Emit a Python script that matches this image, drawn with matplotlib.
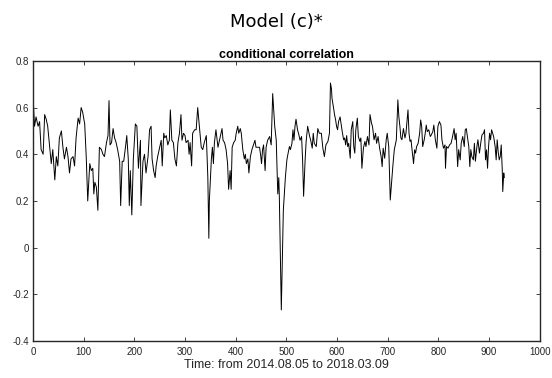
import numpy as np
import matplotlib
matplotlib.use("Agg")
import matplotlib.pyplot as plt

# day index and conditional correlation estimate
day = [0, 3, 6, 10, 13, 16, 20, 23, 26, 29, 33, 36, 39, 43, 46, 49, 52, 56, 59, 62,
       66, 69, 72, 75, 79, 82, 85, 89, 92, 95, 98, 102, 105, 108, 112, 115, 118, 120,
       122, 125, 128, 131, 135, 138, 141, 145, 148, 150, 152, 155, 158, 161, 164, 167,
       171, 173, 176, 179, 183, 185, 188, 190, 192, 195, 198, 202, 205, 208, 212, 213,
       217, 220, 223, 227, 230, 233, 235, 238, 241, 243, 246, 250, 253, 255, 258, 260,
       263, 266, 269, 271, 274, 277, 280, 283, 286, 289, 292, 294, 297, 300, 302, 306,
       308, 310, 313, 315, 319, 322, 325, 329, 332, 335, 338, 342, 345, 347, 348, 352,
       354, 356, 358, 361, 365, 368, 370, 373, 375, 378, 381, 384, 386, 389, 391, 393,
       396, 399, 401, 404, 406, 409, 411, 414, 417, 419, 421, 424, 426, 429, 432, 435,
       438, 440, 444, 447, 449, 451, 453, 455, 458, 460, 463, 467, 470, 473, 475, 477,
       480, 483, 485, 486, 490, 492, 494, 498, 501, 503, 506, 508, 511, 513, 515, 517,
       519, 522, 525, 527, 530, 532, 534, 537, 539, 542, 546, 548, 551, 553, 555, 559,
       562, 565, 569, 572, 575, 578, 582, 585, 587, 589, 590, 593, 595, 597, 599, 601,
       603, 606, 608, 610, 613, 615, 617, 619, 621, 623, 626, 628, 631, 633, 635, 637,
       640, 642, 645, 647, 649, 652, 655, 657, 660, 663, 665, 668, 670, 673, 676, 678,
       681, 684, 687, 689, 691, 694, 697, 699, 702, 705, 707, 710, 713, 717, 718, 720,
       722, 724, 726, 728, 731, 734, 736, 740, 742, 744, 746, 748, 751, 753, 755, 757,
       760, 763, 765, 767, 769, 772, 774, 776, 778, 781, 784, 786, 789, 791, 794, 797,
       799, 802, 805, 807, 810, 813, 814, 816, 819, 822, 825, 828, 831, 833, 835, 838,
       840, 843, 845, 848, 851, 853, 855, 858, 860, 862, 864, 866, 869, 871, 873, 876,
       878, 881, 884, 886, 889, 891, 893, 895, 897, 899, 901, 903, 905, 907, 909, 912,
       914, 916, 918, 920, 922, 924, 926, 927, 929, 930]
corr = [0.65, 0.52, 0.56, 0.52, 0.54, 0.42, 0.40, 0.57, 0.55, 0.52, 0.43, 0.36, 0.42,
        0.29, 0.39, 0.35, 0.47, 0.50, 0.43, 0.38, 0.43, 0.39, 0.32, 0.38, 0.39, 0.35,
        0.47, 0.555, 0.53, 0.60, 0.58, 0.53, 0.39, 0.20, 0.36, 0.33, 0.34, 0.23, 0.28,
        0.26, 0.16, 0.43, 0.42, 0.40, 0.39, 0.45, 0.48, 0.63, 0.44, 0.45, 0.51, 0.47,
        0.45, 0.42, 0.37, 0.18, 0.37, 0.37, 0.44, 0.48, 0.38, 0.18, 0.33, 0.14, 0.38,
        0.53, 0.52, 0.34, 0.46, 0.18, 0.37, 0.40, 0.32, 0.39, 0.505, 0.52, 0.38, 0.33,
        0.30, 0.35, 0.39, 0.43, 0.46, 0.35, 0.49, 0.47, 0.48, 0.44, 0.46, 0.59, 0.46,
        0.45, 0.38, 0.35, 0.45, 0.49, 0.57, 0.46, 0.49, 0.48, 0.45, 0.46, 0.40, 0.45,
        0.35, 0.49, 0.505, 0.505, 0.60, 0.50, 0.43, 0.42, 0.45, 0.48, 0.30, 0.04, 0.20,
        0.38, 0.43, 0.36, 0.45, 0.505, 0.43, 0.46, 0.48, 0.51, 0.46, 0.45, 0.42, 0.36,
        0.25, 0.33, 0.25, 0.43, 0.45, 0.46, 0.49, 0.52, 0.49, 0.51, 0.49, 0.42, 0.38,
        0.40, 0.36, 0.38, 0.32, 0.39, 0.42, 0.44, 0.46, 0.43, 0.43, 0.43, 0.40, 0.36,
        0.42, 0.44, 0.33, 0.43, 0.46, 0.476, 0.44, 0.66, 0.59, 0.52, 0.46, 0.23, 0.30,
        0.23, -0.267, -0.05, 0.16, 0.30, 0.376, 0.40, 0.433, 0.42, 0.447, 0.505, 0.46,
        0.52, 0.55, 0.505, 0.48, 0.46, 0.476, 0.376, 0.22, 0.376, 0.455, 0.52, 0.476,
        0.46, 0.426, 0.49, 0.447, 0.433, 0.51, 0.49, 0.49, 0.426, 0.39, 0.44, 0.455,
        0.49, 0.705, 0.68, 0.64, 0.60, 0.57, 0.55, 0.52, 0.505, 0.54, 0.56, 0.53, 0.50,
        0.462, 0.47, 0.44, 0.48, 0.433, 0.447, 0.383, 0.505, 0.54, 0.433, 0.405, 0.505,
        0.555, 0.476, 0.455, 0.47, 0.34, 0.426, 0.455, 0.433, 0.476, 0.44, 0.57, 0.533,
        0.519, 0.462, 0.49, 0.447, 0.476, 0.426, 0.39, 0.347, 0.426, 0.383, 0.462, 0.49,
        0.433, 0.204, 0.26, 0.347, 0.42, 0.462, 0.52, 0.633, 0.56, 0.52, 0.47, 0.462,
        0.51, 0.47, 0.49, 0.59, 0.49, 0.455, 0.462, 0.419, 0.36, 0.419, 0.405, 0.433,
        0.447, 0.49, 0.547, 0.52, 0.433, 0.462, 0.49, 0.525, 0.497, 0.505, 0.476, 0.483,
        0.497, 0.525, 0.462, 0.426, 0.519, 0.54, 0.525, 0.462, 0.426, 0.44, 0.34, 0.433,
        0.426, 0.44, 0.447, 0.476, 0.51, 0.462, 0.49, 0.347, 0.42, 0.376, 0.447, 0.476,
        0.433, 0.505, 0.51, 0.462, 0.433, 0.347, 0.42, 0.39, 0.376, 0.447, 0.37, 0.433,
        0.462, 0.405, 0.455, 0.483, 0.49, 0.505, 0.376, 0.419, 0.34, 0.433, 0.49, 0.462,
        0.505, 0.49, 0.476, 0.433, 0.376, 0.462, 0.41, 0.376, 0.39, 0.44, 0.333, 0.24,
        0.32, 0.30]

plt.rcParams['font.family'] = ['Liberation Sans', 'DejaVu Sans']
ink = '#262626'

fig = plt.figure(figsize=(5.52, 3.78), dpi=100)
ax = fig.add_axes([0.0598, 0.0979, 0.918, 0.741])
ax.plot(day, corr, color='black', linewidth=0.7)

ax.set_xlim(0, 1000)
ax.set_ylim(-0.4, 0.8)
ax.set_xticks(np.arange(0, 1001, 100))
ax.set_yticks(np.arange(-0.4, 0.81, 0.2))
ax.set_yticklabels(['-0.4', '-0.2', '0', '0.2', '0.4', '0.6', '0.8'])
ax.tick_params(direction='in', top=True, right=True, length=3, width=0.6,
               labelsize=7, colors=ink, pad=3)
ax.tick_params(axis='x', pad=4)
for s in ax.spines.values():
    s.set_color(ink)
    s.set_linewidth(1.0)

ax.set_title('conditional correlation', fontsize=9, fontweight='bold', pad=2)
ax.set_xlabel('Time: from 2014.08.05 to 2018.03.09', fontsize=9, color=ink, labelpad=2)
fig.text(0.5, 0.942, 'Model (c)*', ha='center', va='center', fontsize=13,
         family='DejaVu Sans', color='black')

fig.savefig('out.png', dpi=100)
